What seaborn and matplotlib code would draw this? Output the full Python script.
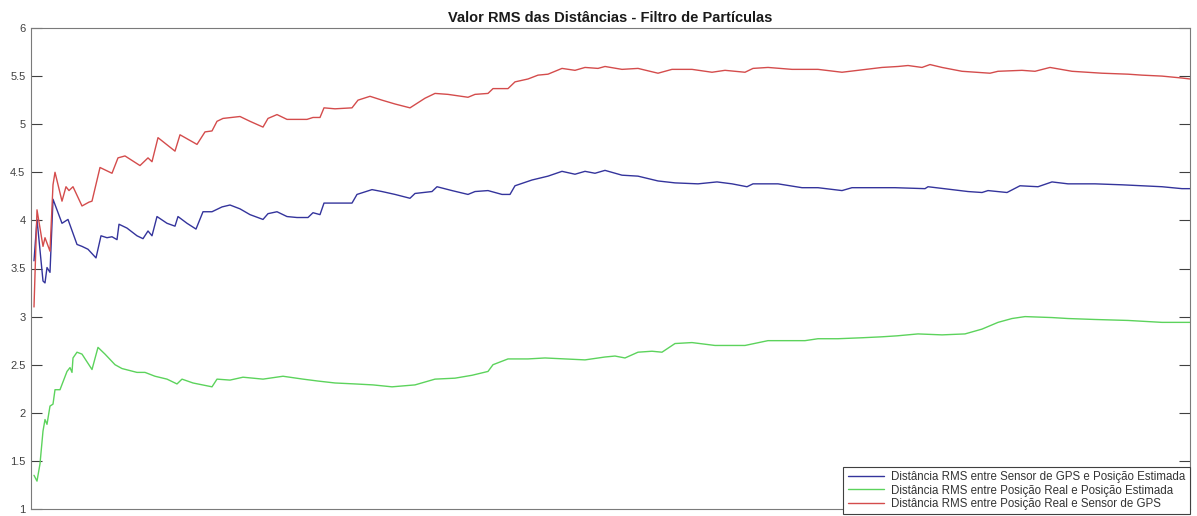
import matplotlib
matplotlib.use("Agg")
import matplotlib.pyplot as plt
import seaborn as sns
import pandas as pd

# Iteration index and RMS distance for each comparison
iter_gps_est = [1, 4, 10, 12, 14, 17, 20, 29, 35, 44, 49, 55, 63, 68, 74, 79, 84, 86, 94, 104,
                110, 115, 119, 124, 134, 142, 145, 154, 163, 170, 179, 189, 197, 207, 217, 230, 235, 244, 254, 264,
                275, 280, 287, 291, 319, 324, 339, 349, 362, 377, 382, 399, 404, 419, 435, 442, 455, 469, 477, 482,
                499, 515, 529, 542, 552, 562, 572, 589, 605, 625, 642, 665, 684, 699, 714, 720, 745, 769, 785, 809,
                819, 839, 862, 892, 895, 919, 935, 949, 955, 974, 987, 1005, 1019, 1035, 1062, 1089, 1109, 1129, 1149, 1157]
rms_gps_est = [3.58, 4.01, 3.37, 3.35, 3.51, 3.46, 4.22, 3.97, 4.01, 3.75, 3.73, 3.70, 3.61, 3.84, 3.82, 3.83, 3.80, 3.96, 3.92, 3.84,
               3.81, 3.89, 3.84, 4.04, 3.97, 3.94, 4.04, 3.97, 3.91, 4.09, 4.09, 4.14, 4.16, 4.12, 4.06, 4.01, 4.07, 4.09, 4.04, 4.03,
               4.03, 4.08, 4.06, 4.18, 4.18, 4.27, 4.32, 4.30, 4.27, 4.23, 4.28, 4.30, 4.35, 4.31, 4.27, 4.30, 4.31, 4.27, 4.27, 4.36,
               4.42, 4.46, 4.51, 4.48, 4.51, 4.49, 4.52, 4.47, 4.46, 4.41, 4.39, 4.38, 4.40, 4.38, 4.35, 4.38, 4.38, 4.34, 4.34, 4.31,
               4.34, 4.34, 4.34, 4.33, 4.35, 4.32, 4.30, 4.29, 4.31, 4.29, 4.36, 4.35, 4.40, 4.38, 4.38, 4.37, 4.36, 4.35, 4.33, 4.33]

iter_real_est = [1, 4, 7, 10, 12, 14, 17, 20, 22, 27, 34, 37, 39, 40, 44, 49, 59, 65, 72, 82,
                 89, 104, 112, 122, 134, 144, 149, 160, 179, 184, 197, 210, 230, 250, 270, 285, 302, 322, 340, 359,
                 382, 402, 422, 439, 455, 460, 475, 495, 512, 532, 552, 572, 582, 592, 605, 619, 629, 642, 659, 682,
                 695, 712, 735, 752, 772, 785, 805, 829, 849, 864, 885, 909, 932, 949, 965, 979, 992, 1019, 1035, 1062,
                 1095, 1129, 1157]
rms_real_est = [1.35, 1.29, 1.47, 1.81, 1.93, 1.88, 2.07, 2.09, 2.24, 2.24, 2.43, 2.47, 2.42, 2.57, 2.63, 2.61, 2.45, 2.68, 2.61, 2.50,
                2.46, 2.42, 2.42, 2.38, 2.35, 2.30, 2.35, 2.31, 2.27, 2.35, 2.34, 2.37, 2.35, 2.38, 2.35, 2.33, 2.31, 2.30, 2.29, 2.27,
                2.29, 2.35, 2.36, 2.39, 2.43, 2.50, 2.56, 2.56, 2.57, 2.56, 2.55, 2.58, 2.59, 2.57, 2.63, 2.64, 2.63, 2.72, 2.73, 2.70,
                2.70, 2.70, 2.75, 2.75, 2.75, 2.77, 2.77, 2.78, 2.79, 2.80, 2.82, 2.81, 2.82, 2.87, 2.94, 2.98, 3.00, 2.99, 2.98, 2.97,
                2.96, 2.94, 2.94]

iter_real_gps = [1, 4, 10, 12, 17, 20, 22, 29, 33, 36, 40, 49, 56, 59, 67, 79, 85, 92, 107, 115,
                 119, 125, 142, 147, 164, 172, 179, 184, 190, 207, 217, 230, 235, 244, 254, 264, 274, 280, 287, 291,
                 302, 319, 325, 337, 349, 362, 377, 392, 402, 415, 435, 442, 455, 460, 475, 482, 495, 505, 515, 529,
                 542, 552, 565, 572, 589, 605, 625, 639, 659, 679, 692, 712, 720, 735, 759, 785, 809, 825, 849, 865,
                 875, 889, 897, 909, 929, 957, 965, 989, 1002, 1017, 1039, 1069, 1095, 1109, 1129, 1149, 1157]
rms_real_gps = [3.10, 4.11, 3.73, 3.82, 3.68, 4.37, 4.50, 4.20, 4.35, 4.31, 4.35, 4.15, 4.19, 4.20, 4.55, 4.49, 4.65, 4.67, 4.57, 4.65,
                4.61, 4.86, 4.72, 4.89, 4.79, 4.92, 4.93, 5.03, 5.06, 5.08, 5.03, 4.97, 5.06, 5.10, 5.05, 5.05, 5.05, 5.07, 5.07, 5.17,
                5.16, 5.17, 5.25, 5.29, 5.25, 5.21, 5.17, 5.27, 5.32, 5.31, 5.28, 5.31, 5.32, 5.37, 5.37, 5.44, 5.47, 5.51, 5.52, 5.58,
                5.56, 5.59, 5.58, 5.60, 5.57, 5.58, 5.53, 5.57, 5.57, 5.54, 5.56, 5.54, 5.58, 5.59, 5.57, 5.57, 5.54, 5.56, 5.59, 5.60,
                5.61, 5.59, 5.62, 5.59, 5.55, 5.53, 5.55, 5.56, 5.55, 5.59, 5.55, 5.53, 5.52, 5.51, 5.50, 5.48, 5.47]

series_labels = [
    "Distância RMS entre Sensor de GPS e Posição Estimada",
    "Distância RMS entre Posição Real e Posição Estimada",
    "Distância RMS entre Posição Real e Sensor de GPS",
]
series_colors = ["#34349c", "#5cd35c", "#d44c4c"]
y_ticks = [1, 1.5, 2, 2.5, 3, 3.5, 4, 4.5, 5, 5.5, 6]
y_tick_labels = ["1", "1.5", "2", "2.5", "3", "3.5", "4", "4.5", "5", "5.5", "6"]
title = "Valor RMS das Distâncias - Filtro de Partículas"

frames = []
for lab, xs, ys in zip(series_labels,
                       [iter_gps_est, iter_real_est, iter_real_gps],
                       [rms_gps_est, rms_real_est, rms_real_gps]):
    frames.append(pd.DataFrame({"iteracao": xs, "rms": ys, "serie": lab}))
df = pd.concat(frames, ignore_index=True)

sns.set_theme(style="white")
plt.rcParams["font.family"] = ["Liberation Sans", "DejaVu Sans"]

fig = plt.figure(figsize=(11.97, 5.16), dpi=100)
ax = fig.add_axes([31 / 1197, 1 - 509 / 516, 1159 / 1197, 481 / 516])

sns.lineplot(data=df, x="iteracao", y="rms", hue="serie", hue_order=series_labels,
             palette=dict(zip(series_labels, series_colors)), estimator=None, sort=False,
             linewidth=1.0, ax=ax)

ax.set_xlim(-2, 1157)
ax.set_ylim(1, 6)
ax.set_xticks([])
ax.set_yticks(y_ticks)
ax.set_yticklabels(y_tick_labels)
ax.set_xlabel("")
ax.set_ylabel("")
ax.tick_params(axis="y", direction="in", length=8, width=0.8, left=True, right=True,
               labelsize=8, labelcolor="#404040", color="#404040", pad=4)
for sp in ax.spines.values():
    sp.set_color("#7a7a7a")
    sp.set_linewidth(0.8)

ax.set_title(title, fontsize=10.5, fontweight="bold", color="#1a1a1a", pad=4)

handles, labels = ax.get_legend_handles_labels()
leg = ax.legend(handles, labels, loc="upper right",
                bbox_to_anchor=(1190 / 1197, 1 - 467 / 516), bbox_transform=fig.transFigure,
                borderaxespad=0, fontsize=8.3, frameon=True, fancybox=False, framealpha=1,
                edgecolor="#404040", handlelength=3.2, handletextpad=0.6, labelspacing=0.1,
                borderpad=0.38)
leg.get_frame().set_linewidth(0.8)
for t in leg.get_texts():
    t.set_color("#333333")

fig.savefig("out.png", dpi=100)
